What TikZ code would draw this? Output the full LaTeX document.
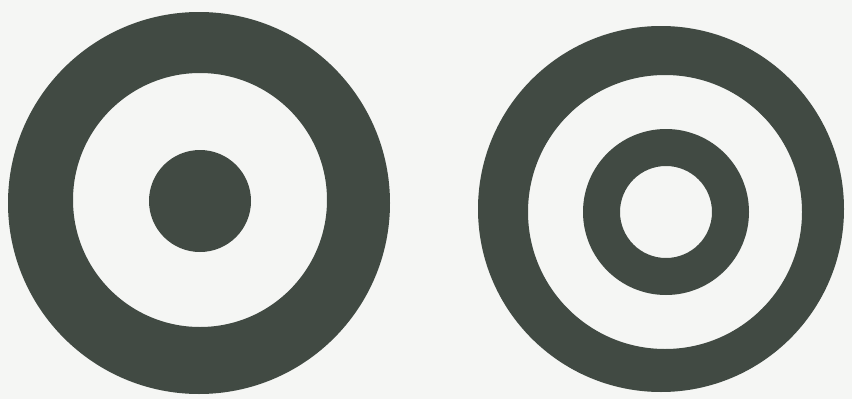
\documentclass[tikz,border=0pt]{standalone}
\definecolor{ink}{HTML}{414A43}
\definecolor{paper}{HTML}{F5F6F4}
\tikzset{ringfill/.style={fill=ink, even odd rule, draw=none}}
\begin{document}
\begin{tikzpicture}[x=1pt,y=-1pt]
\fill[paper] (0,0) rectangle (852,399);
\useasboundingbox (0,0) rectangle (852,399);
% left target
\fill[ringfill] (199,203) circle[radius=191] (200,200) circle[radius=127];
\fill[ink] (200,201) circle[radius=51];
% right target
\fill[ringfill] (661,209) circle[radius=183] (665,212) circle[radius=137];
\fill[ringfill] (666,212) circle[radius=83] (666,212) circle[radius=46];
\end{tikzpicture}
\end{document}
